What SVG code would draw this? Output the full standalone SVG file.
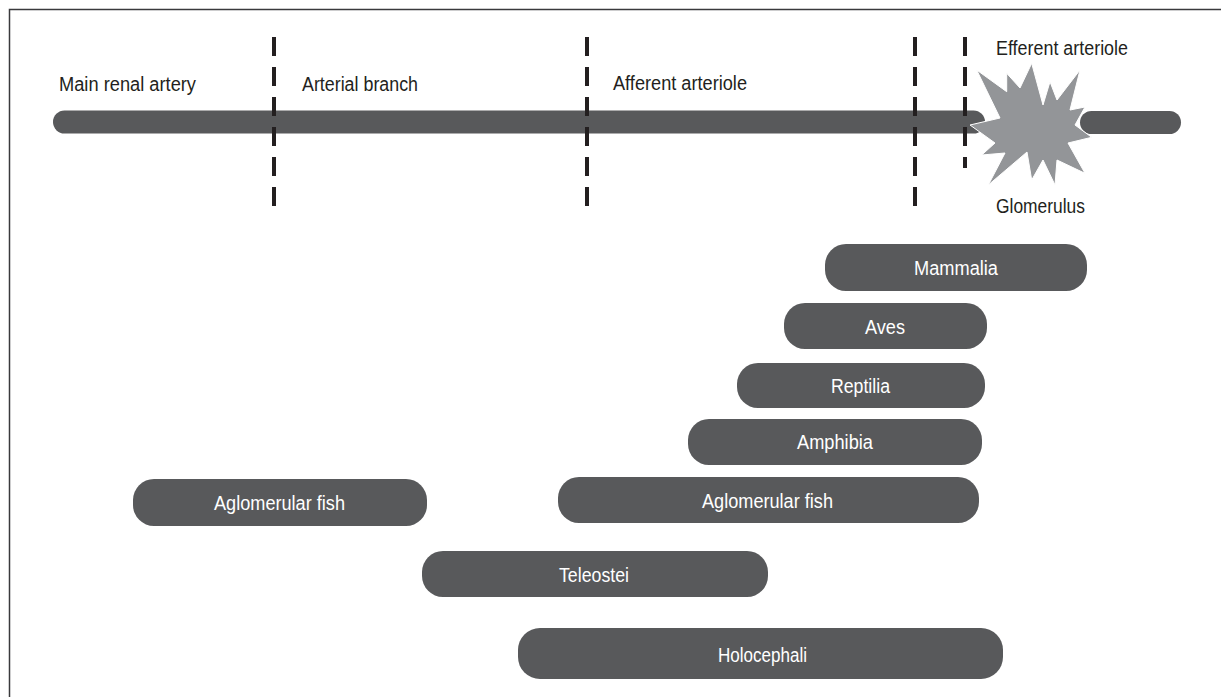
<svg xmlns="http://www.w3.org/2000/svg" width="1221" height="697" viewBox="0 0 1221 697">
<style>
.lbl{font-family:"Liberation Sans Narrow","Liberation Sans",Arial,sans-serif;font-size:20px;fill:#231f20}
.bt{font-family:"Liberation Sans Narrow","Liberation Sans",Arial,sans-serif;font-size:20px;fill:#ffffff;text-anchor:start}
.bar{fill:#58595b}
.dash{stroke:#231f20;stroke-width:4;stroke-dasharray:19 11;fill:none}
</style>
<rect x="0" y="0" width="1221" height="697" fill="#ffffff"/>
<path d="M9.5 697 V9.5 H1221" fill="none" stroke="#3a3a3c" stroke-width="1.5"/>

<g id="vessel">
  <rect x="53" y="110.5" width="932" height="23" rx="11.5" class="bar"/>
  <rect x="1080" y="111" width="101" height="23" rx="11.5" class="bar"/>
</g>

<g id="boundaries">
  <line x1="274" y1="37" x2="274" y2="207" class="dash"/>
  <line x1="587" y1="37" x2="587" y2="207" class="dash"/>
  <line x1="915" y1="37" x2="915" y2="207" class="dash"/>
  <line x1="965" y1="37" x2="965" y2="168" class="dash"/>
</g>

<g id="glomerulus">
  <polygon points="976.7,70 1006.7,91.7 1006.7,73.3 1020,88 1031.7,63.3 1043,105 1050,81.7 1057,100 1080,70 1070,110 1085,107 1075,125 1091.7,137.3 1068,143 1085,173.3 1057,160 1055,185 1043,160 1031.7,180 1027,152 988.3,185 1005,153 981.7,155 995,143 970,125 1000,118" fill="#939598" stroke="#ffffff" stroke-width="1"/>
</g>

<g id="labels">
  <text class="lbl" x="59" y="91" textLength="137" lengthAdjust="spacingAndGlyphs">Main renal artery</text>
  <text class="lbl" x="302" y="91" textLength="116" lengthAdjust="spacingAndGlyphs">Arterial branch</text>
  <text class="lbl" x="613" y="90" textLength="134" lengthAdjust="spacingAndGlyphs">Afferent arteriole</text>
  <text class="lbl" x="996" y="55" textLength="132" lengthAdjust="spacingAndGlyphs">Efferent arteriole</text>
  <text class="lbl" x="996" y="213" textLength="89" lengthAdjust="spacingAndGlyphs">Glomerulus</text>
</g>

<g id="mammalia">
  <rect x="825" y="244" width="262" height="47" rx="21" class="bar"/>
  <text class="bt" x="914" y="275" textLength="84" lengthAdjust="spacingAndGlyphs">Mammalia</text>
</g>
<g id="aves">
  <rect x="784" y="303" width="203" height="46" rx="21" class="bar"/>
  <text class="bt" x="865" y="334" textLength="40" lengthAdjust="spacingAndGlyphs">Aves</text>
</g>
<g id="reptilia">
  <rect x="737" y="363" width="248" height="45" rx="21" class="bar"/>
  <text class="bt" x="831" y="393" textLength="59" lengthAdjust="spacingAndGlyphs">Reptilia</text>
</g>
<g id="amphibia">
  <rect x="688" y="419" width="294" height="46" rx="21" class="bar"/>
  <text class="bt" x="797" y="449" textLength="76" lengthAdjust="spacingAndGlyphs">Amphibia</text>
</g>
<g id="aglomerular-fish-left">
  <rect x="133" y="479" width="294" height="47" rx="21" class="bar"/>
  <text class="bt" x="214" y="510" textLength="131" lengthAdjust="spacingAndGlyphs">Aglomerular fish</text>
</g>
<g id="aglomerular-fish-right">
  <rect x="558" y="477" width="421" height="46" rx="21" class="bar"/>
  <text class="bt" x="702" y="508" textLength="131" lengthAdjust="spacingAndGlyphs">Aglomerular fish</text>
</g>
<g id="teleostei">
  <rect x="422" y="551" width="346" height="46" rx="21" class="bar"/>
  <text class="bt" x="559" y="582" textLength="70" lengthAdjust="spacingAndGlyphs">Teleostei</text>
</g>
<g id="holocephali">
  <rect x="518" y="628" width="485" height="51" rx="22" class="bar"/>
  <text class="bt" x="718" y="662" textLength="89" lengthAdjust="spacingAndGlyphs">Holocephali</text>
</g>
</svg>
